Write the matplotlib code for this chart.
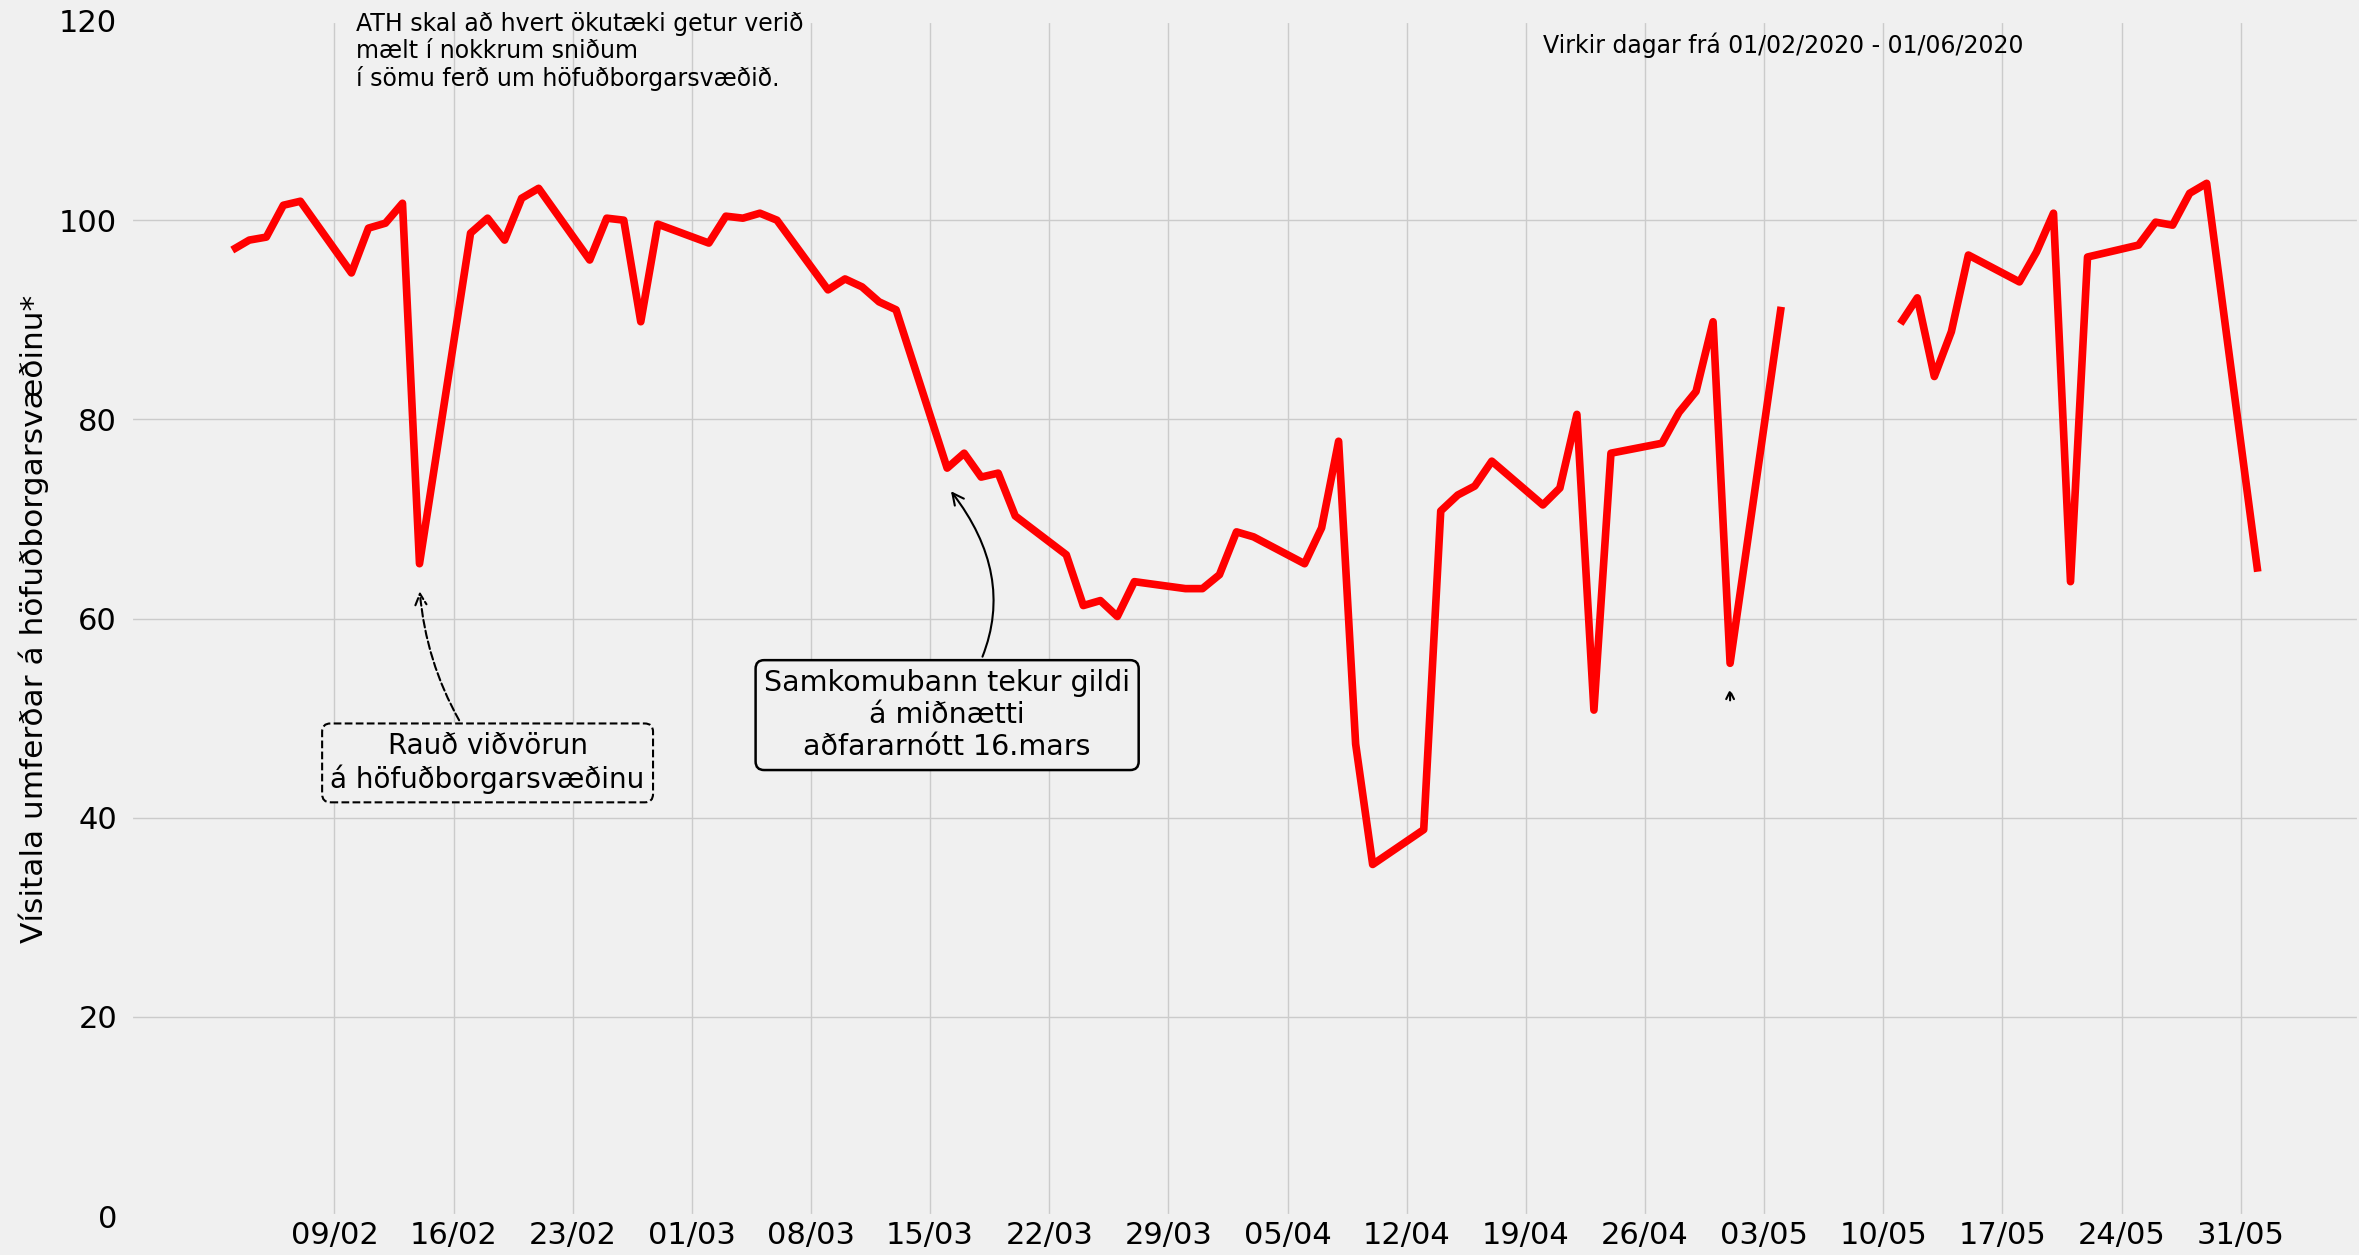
import numpy as np
import pandas as pd
import matplotlib.pyplot as plt
import matplotlib.dates as mdates

plt.style.use('fivethirtyeight')

# working days 03/02/2020 - 01/06/2020 (05/05 - 08/05 missing)
dates = pd.bdate_range('2020-02-03', '2020-06-01')
index_values = [
    97.0, 98.0, 98.3, 101.5, 101.9,
    94.7, 99.2, 99.7, 101.7, 65.5,
    98.7, 100.2, 98.0, 102.2, 103.2,
    96.0, 100.2, 100.0, 89.8, 99.6,
    97.7, 100.4, 100.2, 100.7, 100.0,
    93.0, 94.1, 93.3, 91.8, 91.0,
    75.1, 76.6, 74.2, 74.6, 70.3,
    66.4, 61.3, 61.8, 60.2, 63.7,
    63.0, 63.0, 64.4, 68.7, 68.2,
    65.5, 69.1, 77.8, 47.4, 35.3,
    38.8, 70.8, 72.4, 73.3, 75.8,
    71.4, 73.1, 80.5, 50.8, 76.6,
    77.6, 80.7, 82.8, 89.8, 55.5,
    91.3, np.nan, np.nan, np.nan, np.nan,
    89.6, 92.2, 84.3, 88.8, 96.5,
    93.8, 96.8, 100.7, 63.7, 96.3,
    97.5, 99.8, 99.5, 102.7, 103.7,
    64.7,
]
tick_dates = pd.date_range('2020-02-09', '2020-05-31', freq='7D')
y_ticks = [0, 20, 40, 60, 80, 100, 120]

fig = plt.figure(figsize=(23.59, 12.55), dpi=100)
ax = fig.add_axes([131 / 2359, 39 / 1255, 2228 / 2359, 1195 / 1255])

ax.plot(dates, index_values, color='red', lw=5.5)

ax.set_ylim(0, 120)
ax.set_yticks(y_ticks)
ax.set_xticks(tick_dates)
ax.xaxis.set_major_formatter(mdates.DateFormatter('%d/%m'))
ax.tick_params(axis='both', labelsize=22)
ax.tick_params(axis='y', pad=10)
ax.set_ylabel('Vísitala umferðar á höfuðborgarsvæðinu*', fontsize=22.5, labelpad=7)

ax.text(pd.Timestamp('2020-02-10 06:00'), 120.9,
        'ATH skal að hvert ökutæki getur verið\nmælt í nokkrum sniðum\ní sömu ferð um höfuðborgarsvæðið.',
        fontsize=17, va='top', ha='left', linespacing=1.15)
ax.text(pd.Timestamp('2020-04-20'), 117.6, 'Virkir dagar frá 01/02/2020 - 01/06/2020',
        fontsize=17, va='center', ha='left')

# rauð viðvörun
ax.annotate('Rauð viðvörun\ná höfuðborgarsvæðinu',
            xy=(pd.Timestamp('2020-02-14'), 63), xytext=(pd.Timestamp('2020-02-18'), 45.5),
            fontsize=20, ha='center', va='center',
            bbox=dict(boxstyle='round', fc='#f0f0f0', ec='black', ls='--', lw=1.5),
            arrowprops=dict(arrowstyle='->', ls='--', color='black', lw=1.5,
                            connectionstyle='arc3,rad=-0.15'))

# samkomubann
ax.annotate('Samkomubann tekur gildi\ná miðnætti\naðfararnótt 16.mars',
            xy=(pd.Timestamp('2020-03-16 03:00'), 73), xytext=(pd.Timestamp('2020-03-16'), 50.3),
            fontsize=20.5, ha='center', va='center',
            bbox=dict(boxstyle='round', fc='#f0f0f0', ec='black', lw=1.8),
            arrowprops=dict(arrowstyle='->', color='black', lw=1.5,
                            connectionstyle='arc3,rad=0.4'))

ax.annotate('', xy=(pd.Timestamp('2020-05-01'), 53.2), xytext=(pd.Timestamp('2020-05-01'), 51.5),
            arrowprops=dict(arrowstyle='->', ls='--', color='black', lw=1.5))

fig.savefig('out.png', dpi=100)
